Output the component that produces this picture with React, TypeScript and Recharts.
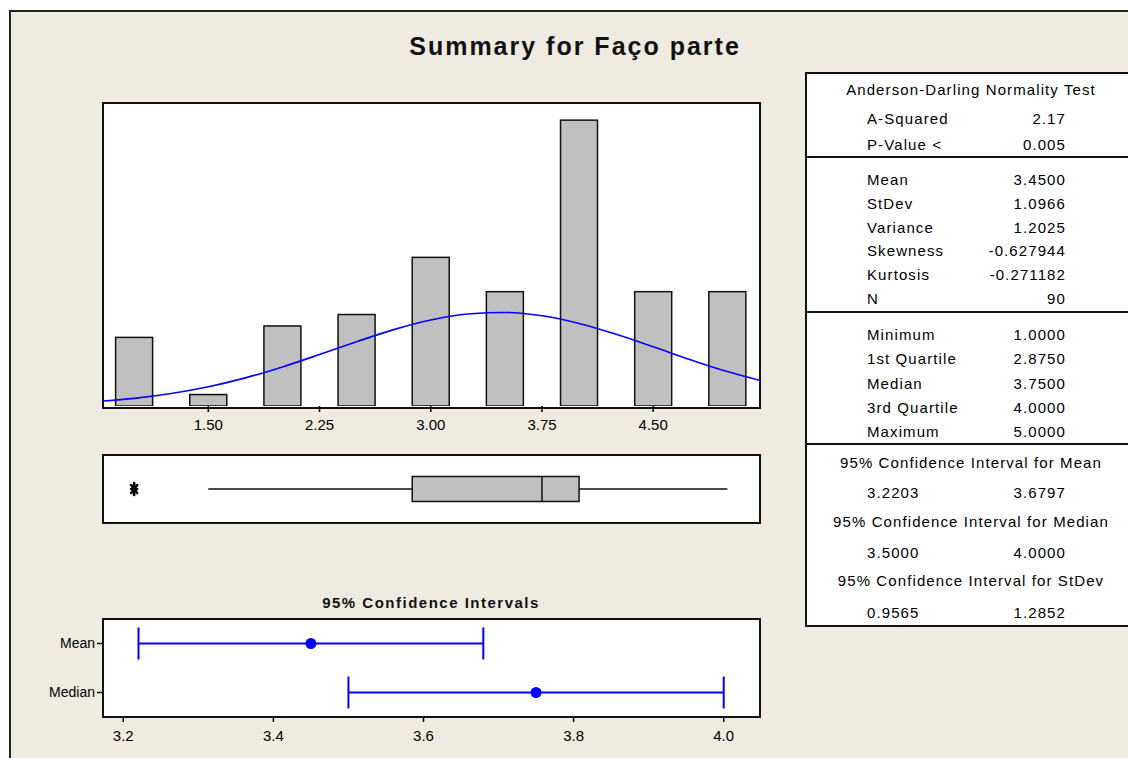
import React from 'react';
import {
  ComposedChart,
  Bar,
  Line,
  Scatter,
  ErrorBar,
  XAxis,
  YAxis,
  ReferenceArea,
  ReferenceLine,
} from 'recharts';

// histogram of the responses (bins of width 0.25, only half-steps occur)
const binCenters = [1.0, 1.5, 2.0, 2.5, 3.0, 3.5, 4.0, 4.5, 5.0];
const binCounts = [6, 1, 7, 8, 13, 10, 25, 10, 10];

// fitted normal curve, in counts per bin
const fitX = [0.75, 1.0, 1.25, 1.5, 1.75, 2.0, 2.25, 2.5, 2.75, 3.0, 3.25, 3.5, 3.75, 4.0, 4.25, 4.5, 4.75, 5.0, 5.25];
const fitY = [0.4, 0.67, 1.09, 1.68, 2.46, 3.42, 4.5, 5.62, 6.68, 7.52, 8.05, 8.18, 7.89, 7.22, 6.27, 5.18, 4.05, 3.01, 2.13];
const histTicks = [1.5, 2.25, 3.0, 3.75, 4.5];

// boxplot
const boxWhiskers = [1.5, 5.0];
const boxQuartiles = [2.875, 3.75, 4.0]; // Q1, median, Q3
const boxOutliers = [1.0];

// 95% confidence intervals
const ciNames = ['Mean', 'Median'];
const ciEstimates = [3.45, 3.75];
const ciLower = [3.2203, 3.5];
const ciUpper = [3.6797, 4.0];
const ciTicks = [3.2, 3.4, 3.6, 3.8, 4.0];

// summary table
const adRows = [
  ['A-Squared', '2.17'],
  ['P-Value <', '0.005'],
];
const momentRows = [
  ['Mean', '3.4500'],
  ['StDev', '1.0966'],
  ['Variance', '1.2025'],
  ['Skewness', '-0.627944'],
  ['Kurtosis', '-0.271182'],
  ['N', '90'],
];
const quantileRows = [
  ['Minimum', '1.0000'],
  ['1st Quartile', '2.8750'],
  ['Median', '3.7500'],
  ['3rd Quartile', '4.0000'],
  ['Maximum', '5.0000'],
];
const intervalRows = [
  ['95% Confidence Interval for Mean', '3.2203', '3.6797'],
  ['95% Confidence Interval for Median', '3.5000', '4.0000'],
  ['95% Confidence Interval for StDev', '0.9565', '1.2852'],
];

const histData = fitX.map((x, i) => {
  const b = binCenters.indexOf(x);
  return { x, fit: fitY[i], count: b >= 0 ? binCounts[b] : 0 };
});

const ciData = ciEstimates.map((est, i) => ({
  pos: i + 1,
  est,
  err: [est - ciLower[i], ciUpper[i] - est],
}));

const narrow = "'Liberation Sans Narrow', 'Arial Narrow', 'Liberation Sans', Arial, sans-serif";
const sans = "'Liberation Sans', Arial, sans-serif";
const BEIGE = '#EFEBE1';
const HIST_DOMAIN: [number, number] = [0.79, 5.22];

const panel = (left: number, top: number, width: number, height: number): React.CSSProperties => ({
  position: 'absolute',
  left,
  top,
  width,
  height,
  boxSizing: 'border-box',
  border: '2px solid #111',
  background: '#fff',
});

const HistBar = (props: any) => {
  const { x, y, width, height } = props;
  if (!height || height <= 0) return <g />;
  return <rect x={x} y={y} width={width} height={height} fill="#C0C0C0" stroke="#111" strokeWidth={1.5} />;
};

// Minitab-style outlier asterisk
const OutlierMark = (props: any) => {
  const { cx, cy } = props;
  return (
    <g stroke="#000" strokeWidth={2.6} strokeLinecap="round">
      <line x1={cx} y1={cy - 6} x2={cx} y2={cy + 6} />
      <line x1={cx - 3} y1={cy - 4} x2={cx + 3} y2={cy + 4} />
      <line x1={cx + 3} y1={cy - 4} x2={cx - 3} y2={cy + 4} />
      <line x1={cx - 3} y1={cy} x2={cx + 3} y2={cy} />
    </g>
  );
};

const CiDot = (props: any) => <circle cx={props.cx} cy={props.cy} r={5.5} fill="#0000FF" />;

const tableText: React.CSSProperties = {
  position: 'absolute',
  fontFamily: sans,
  fontSize: 15,
  letterSpacing: 1.1,
  color: '#000',
  lineHeight: '18px',
  whiteSpace: 'nowrap',
};

const LabelRow = ({ y, label, value }: { y: number; label: string; value: string }) => (
  <>
    <div style={{ ...tableText, left: 867, top: y - 9 }}>{label}</div>
    <div style={{ ...tableText, left: 966, width: 100, top: y - 9, textAlign: 'right' }}>{value}</div>
  </>
);

const Header = ({ y, text }: { y: number; text: string }) => (
  <div style={{ ...tableText, left: 806, width: 330, top: y - 9, textAlign: 'center' }}>{text}</div>
);

const Divider = ({ y }: { y: number }) => (
  <div style={{ position: 'absolute', left: 806, top: y - 1, width: 330, height: 2, background: '#111' }} />
);

export default function App() {
  const tickStyle = { fill: '#000', fontSize: 15, fontFamily: narrow };
  return (
    <div style={{ position: 'absolute', left: 0, top: 0, width: 1128, height: 758, background: '#fff', overflow: 'hidden' }}>
      <div
        style={{
          position: 'absolute',
          left: 9,
          top: 10,
          width: 1140,
          height: 760,
          background: BEIGE,
          borderLeft: '2px solid #222',
          borderTop: '2px solid #222',
        }}
      />

      <div
        style={{
          position: 'absolute',
          left: 325,
          width: 500,
          top: 32,
          textAlign: 'center',
          fontFamily: sans,
          fontWeight: 'bold',
          fontSize: 25,
          letterSpacing: 2,
          color: '#111',
        }}
      >
        Summary for Faço parte
      </div>

      {/* histogram with fitted normal */}
      <div style={panel(102, 102, 659, 307)} />
      <div style={{ position: 'absolute', left: 103, top: 103 }}>
        <ComposedChart width={657} height={345} data={histData} margin={{ top: 0, right: 0, bottom: 0, left: 0 }}>
          <XAxis
            dataKey="x"
            type="number"
            domain={HIST_DOMAIN}
            allowDataOverflow
            ticks={histTicks}
            tickFormatter={(v: number) => v.toFixed(2)}
            axisLine={false}
            tickLine={{ stroke: '#000', strokeWidth: 1.5 }}
            tickSize={6}
            tickMargin={7}
            tick={tickStyle}
            height={42}
          />
          <YAxis hide type="number" domain={[0, 26.5]} allowDataOverflow />
          <Bar dataKey="count" barSize={37} shape={HistBar} isAnimationActive={false} />
          <Line
            dataKey="fit"
            type="monotone"
            stroke="#0000FF"
            strokeWidth={1.6}
            dot={false}
            isAnimationActive={false}
          />
        </ComposedChart>
      </div>

      {/* boxplot */}
      <div style={panel(102, 454, 659, 70)} />
      <div style={{ position: 'absolute', left: 103, top: 455 }}>
        <ComposedChart
          width={657}
          height={68}
          data={boxOutliers.map((x) => ({ x, y: 0 }))}
          margin={{ top: 0, right: 0, bottom: 0, left: 0 }}
        >
          <XAxis hide dataKey="x" type="number" domain={HIST_DOMAIN} allowDataOverflow />
          <YAxis hide dataKey="y" type="number" domain={[-1, 1]} allowDataOverflow />
          <ReferenceLine
            segment={[{ x: boxWhiskers[0], y: 0 }, { x: boxQuartiles[0], y: 0 }]}
            stroke="#111"
            strokeWidth={1.5}
          />
          <ReferenceLine
            segment={[{ x: boxQuartiles[2], y: 0 }, { x: boxWhiskers[1], y: 0 }]}
            stroke="#111"
            strokeWidth={1.5}
          />
          <ReferenceArea
            x1={boxQuartiles[0]}
            x2={boxQuartiles[2]}
            y1={-0.37}
            y2={0.37}
            fill="#C0C0C0"
            fillOpacity={1}
            stroke="#111"
            strokeWidth={1.5}
          />
          <ReferenceLine
            segment={[{ x: boxQuartiles[1], y: -0.37 }, { x: boxQuartiles[1], y: 0.37 }]}
            stroke="#111"
            strokeWidth={1.5}
          />
          <Scatter dataKey="y" shape={OutlierMark} isAnimationActive={false} />
        </ComposedChart>
      </div>

      {/* confidence intervals */}
      <div
        style={{
          position: 'absolute',
          left: 231,
          width: 400,
          top: 594,
          textAlign: 'center',
          fontFamily: sans,
          fontWeight: 'bold',
          fontSize: 15,
          letterSpacing: 1.5,
          color: '#111',
        }}
      >
        95% Confidence Intervals
      </div>
      <div style={panel(102, 618, 659, 100)} />
      <div style={{ position: 'absolute', left: 0, top: 619 }}>
        <ComposedChart width={759} height={138} data={ciData} margin={{ top: 0, right: 0, bottom: 0, left: 0 }}>
          <XAxis
            dataKey="est"
            type="number"
            domain={[3.173, 4.047]}
            allowDataOverflow
            ticks={ciTicks}
            tickFormatter={(v: number) => v.toFixed(1)}
            axisLine={false}
            tickLine={{ stroke: '#000', strokeWidth: 1.5 }}
            tickSize={5}
            tickMargin={8}
            tick={tickStyle}
            height={40}
          />
          <YAxis
            dataKey="pos"
            type="number"
            domain={[0.5, 2.5]}
            reversed
            ticks={[1, 2]}
            tickFormatter={(v: number) => ciNames[v - 1]}
            axisLine={false}
            tickLine={{ stroke: '#000', strokeWidth: 1.5 }}
            tickSize={6}
            tickMargin={2}
            tick={{ ...tickStyle, fontSize: 14 }}
            width={103}
          />
          <Scatter shape={CiDot} isAnimationActive={false}>
            <ErrorBar dataKey="err" direction="x" width={16} stroke="#0000FF" strokeWidth={2} />
          </Scatter>
        </ComposedChart>
      </div>

      {/* summary table */}
      <div
        style={{
          position: 'absolute',
          left: 805,
          top: 72,
          width: 340,
          height: 555,
          boxSizing: 'border-box',
          border: '2px solid #111',
          background: '#fff',
        }}
      />
      <Header y={90} text="Anderson-Darling Normality Test" />
      {adRows.map((r, i) => (
        <LabelRow key={r[0]} y={119 + i * 26} label={r[0]} value={r[1]} />
      ))}
      <Divider y={157} />
      {momentRows.map((r, i) => (
        <LabelRow key={r[0]} y={180 + i * 23.8} label={r[0]} value={r[1]} />
      ))}
      <Divider y={312} />
      {quantileRows.map((r, i) => (
        <LabelRow key={r[0]} y={335 + i * 24.3} label={r[0]} value={r[1]} />
      ))}
      <Divider y={444} />
      {intervalRows.map((r, i) => (
        <React.Fragment key={r[0]}>
          <Header y={463 + i * 59} text={r[0]} />
          <div style={{ ...tableText, left: 867, top: 493 + i * 60 - 9 }}>{r[1]}</div>
          <div style={{ ...tableText, left: 966, width: 100, top: 493 + i * 60 - 9, textAlign: 'right' }}>{r[2]}</div>
        </React.Fragment>
      ))}
    </div>
  );
}
